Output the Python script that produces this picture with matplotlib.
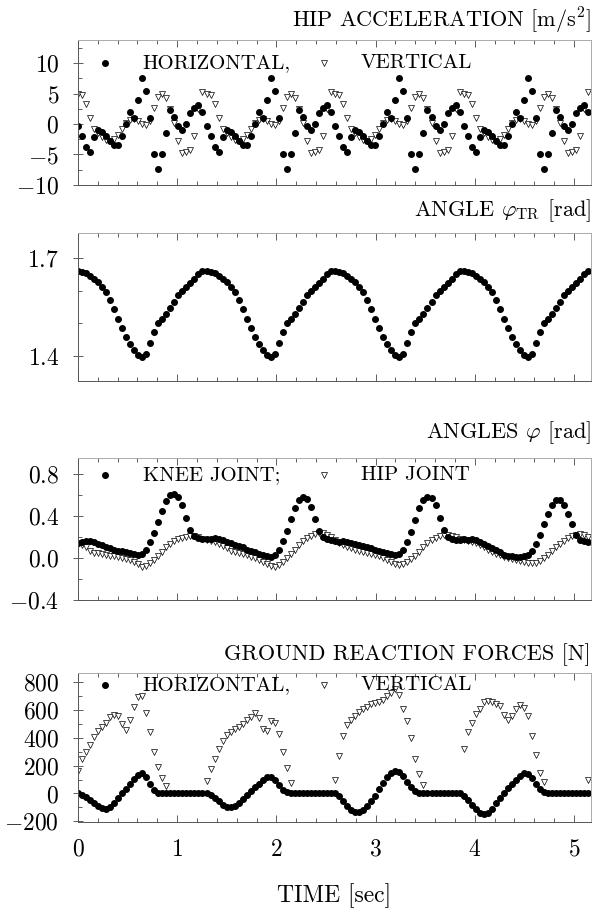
import numpy as np
import matplotlib.pyplot as plt
from matplotlib.ticker import MultipleLocator, FixedLocator

plt.rcParams['font.family'] = 'cmr10'
plt.rcParams['mathtext.fontset'] = 'cm'
plt.rcParams['axes.formatter.use_mathtext'] = True

# sampling step of the recorded data [sec]
dt = 0.0405
nan = np.nan

# hip acceleration [m/s^2]
acc_horiz = [
    -0.3, -2.0, -3.8, -4.6, -2.2, -0.9, -1.3, -2.0, -2.8, -3.4, -3.5, -2.0, 0.0, 2.0, 1.0, 4.0,
    7.5, 5.5, 1.0, -5.0, -7.3, -5.0, -1.5, 2.3, 1.2, -0.3, -1.0, 0.0, 1.8, 2.6, 3.2, 2.0,
    -0.3, -2.0, -3.8, -4.6, -2.2, -0.9, -1.3, -2.0, -2.8, -3.4, -3.5, -2.0, 0.0, 2.0, 1.0, 4.0,
    7.5, 5.5, 1.0, -5.0, -7.3, -5.0, -1.5, 2.3, 1.2, -0.3, -1.0, 0.0, 1.8, 2.6, 3.2, 2.0,
    -0.3, -2.0, -3.8, -4.6, -2.2, -0.9, -1.3, -2.0, -2.8, -3.4, -3.5, -2.0, 0.0, 2.0, 1.0, 4.0,
    7.5, 5.5, 1.0, -5.0, -7.3, -5.0, -1.5, 2.3, 1.2, -0.3, -1.0, 0.0, 1.8, 2.6, 3.2, 2.0,
    -0.3, -2.0, -3.8, -4.6, -2.2, -0.9, -1.3, -2.0, -2.8, -3.4, -3.5, -2.0, 0.0, 2.0, 1.0, 4.0,
    7.5, 5.5, 1.0, -5.0, -7.3, -5.0, -1.5, 2.3, 1.2, -0.3, -1.0, 0.0, 1.8, 2.6, 3.2, 2.0,
]
acc_vert = [
    5.0, 4.8, 3.3, 1.0, -0.8, -1.5, -2.2, -2.6, -2.8, -2.5, -1.8, -0.8, 0.2, 0.7, 0.8, 0.5,
    0.0, -0.2, 0.5, 2.6, 4.5, 5.0, 4.2, 2.5, 0.2, -2.8, -4.8, -4.6, -4.2, -2.0, 2.5, 5.2,
    5.0, 4.8, 3.3, 1.0, -0.8, -1.5, -2.2, -2.6, -2.8, -2.5, -1.8, -0.8, 0.2, 0.7, 0.8, 0.5,
    0.0, -0.2, 0.5, 2.6, 4.5, 5.0, 4.2, 2.5, 0.2, -2.8, -4.8, -4.6, -4.2, -2.0, 2.5, 5.2,
    5.0, 4.8, 3.3, 1.0, -0.8, -1.5, -2.2, -2.6, -2.8, -2.5, -1.8, -0.8, 0.2, 0.7, 0.8, 0.5,
    0.0, -0.2, 0.5, 2.6, 4.5, 5.0, 4.2, 2.5, 0.2, -2.8, -4.8, -4.6, -4.2, -2.0, 2.5, 5.2,
    5.0, 4.8, 3.3, 1.0, -0.8, -1.5, -2.2, -2.6, -2.8, -2.5, -1.8, -0.8, 0.2, 0.7, 0.8, 0.5,
    0.0, -0.2, 0.5, 2.6, 4.5, 5.0, 4.2, 2.5, 0.2, -2.8, -4.8, -4.6, -4.2, -2.0, 2.5, 5.2,
]

# trunk angle phi_TR [rad]
angle_tr = [
    1.660, 1.656, 1.652, 1.645, 1.636, 1.625, 1.612, 1.595, 1.572, 1.545, 1.515, 1.487, 1.460, 1.437, 1.418, 1.404,
    1.398, 1.408, 1.440, 1.475, 1.500, 1.515, 1.530, 1.548, 1.565, 1.585, 1.600, 1.612, 1.624, 1.636, 1.650, 1.660,
    1.660, 1.656, 1.652, 1.645, 1.636, 1.625, 1.612, 1.595, 1.572, 1.545, 1.515, 1.487, 1.460, 1.437, 1.418, 1.404,
    1.398, 1.408, 1.440, 1.475, 1.500, 1.515, 1.530, 1.548, 1.565, 1.585, 1.600, 1.612, 1.624, 1.636, 1.650, 1.660,
    1.660, 1.656, 1.652, 1.645, 1.636, 1.625, 1.612, 1.595, 1.572, 1.545, 1.515, 1.487, 1.460, 1.437, 1.418, 1.404,
    1.398, 1.408, 1.440, 1.475, 1.500, 1.515, 1.530, 1.548, 1.565, 1.585, 1.600, 1.612, 1.624, 1.636, 1.650, 1.660,
    1.660, 1.656, 1.652, 1.645, 1.636, 1.625, 1.612, 1.595, 1.572, 1.545, 1.515, 1.487, 1.460, 1.437, 1.418, 1.404,
    1.398, 1.408, 1.440, 1.475, 1.500, 1.515, 1.530, 1.548, 1.565, 1.585, 1.600, 1.612, 1.624, 1.636, 1.650, 1.660,
]

# joint angles [rad]
knee = [
    0.14, 0.15, 0.16, 0.16, 0.15, 0.13, 0.12, 0.10, 0.09, 0.08, 0.07, 0.07, 0.06, 0.05, 0.04, 0.03,
    0.04, 0.08, 0.15, 0.24, 0.34, 0.45, 0.54, 0.60, 0.61, 0.58, 0.50, 0.38, 0.27, 0.21, 0.19, 0.18,
    0.18, 0.18, 0.19, 0.18, 0.17, 0.15, 0.14, 0.12, 0.11, 0.10, 0.08, 0.07, 0.06, 0.04, 0.03, 0.02,
    0.01, 0.03, 0.08, 0.16, 0.26, 0.37, 0.47, 0.55, 0.58, 0.56, 0.48, 0.37, 0.26, 0.20, 0.18, 0.17,
    0.16, 0.15, 0.16, 0.15, 0.14, 0.13, 0.12, 0.11, 0.10, 0.09, 0.08, 0.07, 0.06, 0.05, 0.04, 0.03,
    0.04, 0.08, 0.15, 0.25, 0.36, 0.47, 0.55, 0.58, 0.57, 0.50, 0.38, 0.27, 0.20, 0.18, 0.17, 0.17,
    0.18, 0.17, 0.18, 0.17, 0.15, 0.13, 0.11, 0.09, 0.08, 0.06, 0.03, 0.02, 0.02, 0.01, 0.01, 0.02,
    0.03, 0.07, 0.13, 0.22, 0.32, 0.42, 0.50, 0.55, 0.55, 0.50, 0.42, 0.32, 0.22, 0.17, 0.16, 0.15,
]
hip = [
    0.13, 0.12, 0.10, 0.07, 0.05, 0.045, 0.04, 0.03, 0.02, 0.015, 0.01, 0.0, -0.01, -0.02, -0.04, -0.06,
    -0.085, -0.08, -0.05, -0.02, 0.02, 0.06, 0.10, 0.13, 0.16, 0.18, 0.19, 0.20, 0.21, 0.21, 0.20, 0.18,
    0.17, 0.16, 0.15, 0.13, 0.11, 0.09, 0.07, 0.06, 0.05, 0.04, 0.03, 0.01, 0.0, -0.02, -0.04, -0.06,
    -0.08, -0.09, -0.07, -0.04, 0.0, 0.04, 0.08, 0.12, 0.16, 0.19, 0.21, 0.23, 0.24, 0.24, 0.22, 0.20,
    0.17, 0.14, 0.12, 0.10, 0.09, 0.08, 0.07, 0.06, 0.05, 0.04, 0.03, 0.02, 0.0, -0.02, -0.04, -0.06,
    -0.07, -0.06, -0.04, -0.01, 0.02, 0.06, 0.10, 0.14, 0.17, 0.19, 0.21, 0.22, 0.22, 0.21, 0.20, 0.18,
    0.17, 0.16, 0.15, 0.14, 0.12, 0.10, 0.08, 0.06, 0.04, 0.03, 0.01, 0.0, -0.01, -0.02, -0.03, -0.04,
    -0.05, -0.05, -0.05, -0.03, 0.0, 0.03, 0.07, 0.10, 0.13, 0.16, 0.19, 0.21, 0.22, 0.23, 0.22, 0.20,
]

# ground reaction forces [N]
grf_horiz = [
    0, -8, -25, -45, -70, -90, -105, -112, -100, -70, -35, 0, 35, 70, 105, 135,
    150, 120, 65, 25, 5, 0, 0, 0, 0, 0, 0, 0, 0, 0, 0, 0,
    0, -10, -30, -55, -80, -97, -100, -90, -70, -40, -10, 20, 45, 70, 95, 115,
    120, 100, 60, 25, 8, 0, 0, 0, 0, 0, 0, 0, 0, 0, 0, 0,
    0, -20, -55, -90, -120, -133, -135, -120, -90, -55, -15, 30, 75, 115, 145, 160,
    155, 125, 85, 45, 15, 3, 0, 0, 0, 0, 0, 0, 0, 0, 0, 0,
    -15, -45, -80, -115, -140, -150, -140, -110, -70, -30, 5, 40, 70, 95, 125, 145,
    140, 110, 70, 30, 8, 0, 0, 0, 0, 0, 0, 0, 0, 0, 0, 0,
]
grf_vert = [
    165, 245, 300, 350, 405, 450, 480, 510, 550, 565, 555, 500, 455, 530, 620, 690,
    700, 580, 440, 300, 190, 110, 55, nan, nan, nan, nan, nan, nan, nan, nan, nan,
    90, 175, 250, 320, 380, 420, 445, 465, 480, 500, 530, 550, 575, 540, 460, 450,
    520, 505, 430, 300, 180, 75, nan, nan, nan, nan, nan, nan, nan, nan, nan, nan,
    100, 270, 410, 490, 530, 560, 585, 605, 620, 640, 650, 660, 675, 700, 720, 750,
    710, 610, 520, 400, 250, 140, 60, nan, nan, nan, nan, nan, nan, nan, nan, nan,
    320, 440, 510, 570, 610, 660, 665, 655, 640, 630, 565, 530, 560, 605, 635, 615,
    560, 410, 280, 150, 80, nan, nan, nan, nan, nan, nan, nan, nan, nan, nan, 100,
]

t = np.arange(len(acc_horiz)) * dt

fig = plt.figure(figsize=(5.95, 9.08), dpi=100)
left, width = 0.131, 0.862
ax1 = fig.add_axes([left, 0.7963, width, 0.1597])
ax2 = fig.add_axes([left, 0.5804, width, 0.1630])
ax3 = fig.add_axes([left, 0.3392, width, 0.1564])
ax4 = fig.add_axes([left, 0.0947, width, 0.1640])

dot = dict(ls='none', marker='o', ms=4.0, color='k', mec='k')
tri = dict(ls='none', marker='v', ms=4.8, mfc='white', mec='k', mew=0.5)


def style(ax, ylim, yticks, yminor, title, pad):
    ax.set_xlim(0, 5.17)
    ax.set_ylim(*ylim)
    ax.xaxis.set_major_locator(MultipleLocator(1))
    ax.xaxis.set_minor_locator(MultipleLocator(0.2))
    ax.yaxis.set_major_locator(FixedLocator(yticks))
    ax.yaxis.set_minor_locator(MultipleLocator(yminor))
    ax.tick_params(axis='x', which='both', direction='in', top=True)
    ax.tick_params(axis='y', which='major', direction='inout', length=7, pad=10)
    ax.tick_params(axis='y', which='minor', direction='in', length=3)
    ax.tick_params(axis='x', which='major', length=5)
    ax.tick_params(axis='x', which='minor', length=3)
    ax.tick_params(which='both', width=0.6, color='#444444', labelsize=17)
    for s in ['top', 'right']:
        ax.spines[s].set_color('#aaaaaa')
    for s in ['left', 'bottom']:
        ax.spines[s].set_color('#555555')
    for s in ax.spines.values():
        s.set_linewidth(0.7)
    ax.set_title(title, loc='right', fontsize=16, pad=pad)


def keys(ax, y, lab1, lab2):
    ax.plot([0.053], [y], transform=ax.transAxes, **dot)
    ax.text(0.126, y, lab1, transform=ax.transAxes, va='center', fontsize=15)
    ax.plot([0.48], [y], transform=ax.transAxes, **tri)
    ax.text(0.552, y, lab2, transform=ax.transAxes, va='center', fontsize=15)


ax1.plot(t, acc_vert, **tri)
ax1.plot(t, acc_horiz, **dot)
style(ax1, (-10, 13.8), [-10, -5, 0, 5, 10], 2.5, r'HIP ACCELERATION [m/s$^2$]', 9)
keys(ax1, 0.84, 'HORIZONTAL,', 'VERTICAL')

ax2.plot(t, angle_tr, **dot)
style(ax2, (1.325, 1.775), [1.4, 1.7], 0.1, r'ANGLE $\varphi_{\rm TR}$ [rad]', 12)

ax3.plot(t, hip, **tri)
ax3.plot(t, knee, **dot)
style(ax3, (-0.4, 0.95), [-0.4, 0.0, 0.4, 0.8], 0.2, r'ANGLES $\varphi$ [rad]', 14)
keys(ax3, 0.88, 'KNEE JOINT;', 'HIP JOINT')

ax4.plot(t, grf_vert, **tri)
ax4.plot(t, grf_horiz, **dot)
style(ax4, (-205, 865), [-200, 0, 200, 400, 600, 800], 100, 'GROUND REACTION FORCES [N]', 9)
keys(ax4, 0.92, 'HORIZONTAL,', 'VERTICAL')

for ax in [ax1, ax2, ax3]:
    ax.tick_params(labelbottom=False)
ax4.tick_params(axis='x', pad=12)
ax4.set_xlabel('TIME [sec]', fontsize=17, labelpad=16)

fig.savefig('out.png', dpi=100)
